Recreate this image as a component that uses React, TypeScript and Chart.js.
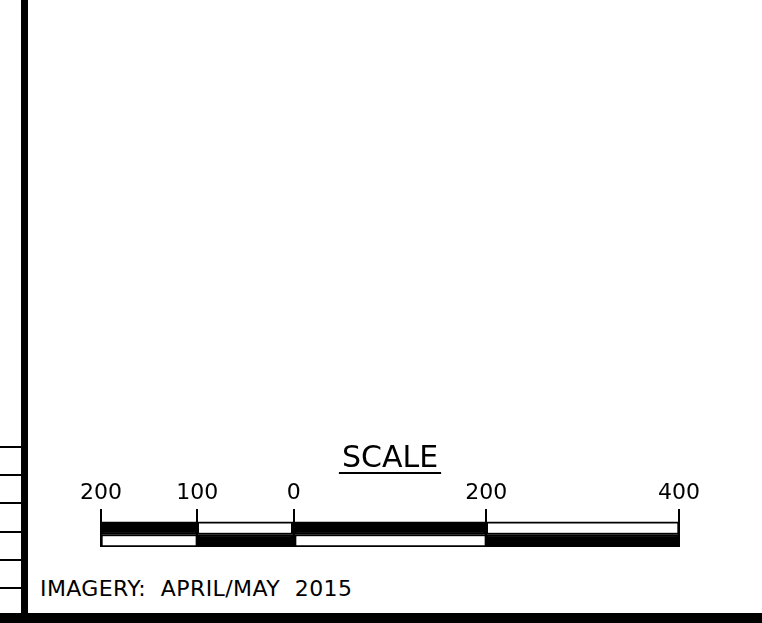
import React, { useEffect, useRef } from "react";
import { Chart, registerables } from "chart.js";

Chart.register(...registerables);

// ---- data ----
const scaleTitle = "SCALE";
const footnote = "IMAGERY:  APRIL/MAY  2015";
const tickValues = [-200, -100, 0, 200, 400];
const segmentStarts = [-200, -100, 0, 200];
const segmentEnds = [-100, 0, 200, 400];
const rowLabels = ["", "upper", "lower"];
const sideLineRows = [0, 1, 2, 3, 4, 5];

const BLACK = "#000000";
const WHITE = "#ffffff";
const FONT = "'DejaVu Sans', sans-serif";

const underlinePlugin = {
  id: "titleUnderline",
  afterDraw(chart: any) {
    const tb = chart.titleBlock;
    if (!tb) return;
    const ctx = chart.ctx;
    ctx.save();
    ctx.font = `normal 30px ${FONT}`;
    const w = ctx.measureText(scaleTitle).width;
    const cx = (tb.left + tb.right) / 2;
    const y = tb.top + 10 + 18 + 14;
    ctx.fillStyle = BLACK;
    ctx.fillRect(cx - w / 2 - 3, y - 1, w + 6, 2);
    ctx.restore();
  },
};

export default function App() {
  const ref = useRef<HTMLCanvasElement | null>(null);

  useEffect(() => {
    if (!ref.current) return;
    const datasets = segmentStarts.map((s, i) => {
      const upperBlack = i % 2 === 0;
      return {
        label: `seg${i}`,
        data: rowLabels.map((_, r) => (r === 0 ? null : [s, segmentEnds[i]])) as any,
        backgroundColor: rowLabels.map((_, r) =>
          r === 0 ? "rgba(0,0,0,0)" : (r === 1) === upperBlack ? BLACK : WHITE
        ),
        borderColor: BLACK,
        borderWidth: 2,
        borderSkipped: false,
        grouped: false,
        barPercentage: 1,
        categoryPercentage: 1,
      };
    });

    const chart = new Chart(ref.current, {
      type: "bar",
      data: { labels: rowLabels, datasets },
      plugins: [underlinePlugin],
      options: {
        indexAxis: "y",
        animation: false,
        responsive: false,
        events: [],
        layout: { padding: { left: 0, right: 0, top: 0, bottom: 4 } },
        plugins: {
          legend: { display: false },
          tooltip: { enabled: false },
          title: {
            display: true,
            text: scaleTitle,
            color: BLACK,
            font: { family: FONT, size: 30, weight: "normal", lineHeight: 1.2 },
            padding: { top: 10, bottom: 0 },
          },
        },
        scales: {
          x: {
            type: "linear",
            position: "top",
            min: tickValues[0],
            max: tickValues[tickValues.length - 1],
            z: 1,
            afterBuildTicks: (axis: any) => {
              axis.ticks = tickValues.map((v) => ({ value: v }));
            },
            ticks: {
              autoSkip: false,
              maxRotation: 0,
              padding: 3,
              color: BLACK,
              font: { family: FONT, size: 22, lineHeight: 1.2 },
              callback: (v: any) => String(Math.abs(Number(v))),
            },
            grid: { color: BLACK, lineWidth: 2, drawTicks: false },
            border: { display: false },
          },
          y: { display: false },
        },
      } as any,
    });
    return () => chart.destroy();
  }, []);

  return (
    <div
      style={{
        position: "fixed",
        left: 0,
        top: 0,
        width: 762,
        height: 623,
        background: WHITE,
        overflow: "hidden",
      }}
    >
      {/* frame */}
      <div style={{ position: "absolute", left: 21, top: 0, width: 7, height: 623, background: BLACK }} />
      <div style={{ position: "absolute", left: 0, top: 613, width: 762, height: 10, background: BLACK }} />
      {sideLineRows.map((r) => (
        <div
          key={r}
          style={{ position: "absolute", left: 0, top: 446 + r * 28.2, width: 22, height: 2, background: BLACK }}
        />
      ))}
      <canvas
        ref={ref}
        width={626}
        height={120}
        style={{ position: "absolute", left: 77, top: 431, width: 626, height: 120 }}
      />
      <div
        style={{
          position: "absolute",
          left: 40,
          top: 578,
          fontFamily: FONT,
          fontSize: 22,
          lineHeight: "22px",
          letterSpacing: "0.4px",
          whiteSpace: "pre",
          color: BLACK,
        }}
      >
        {footnote}
      </div>
    </div>
  );
}
